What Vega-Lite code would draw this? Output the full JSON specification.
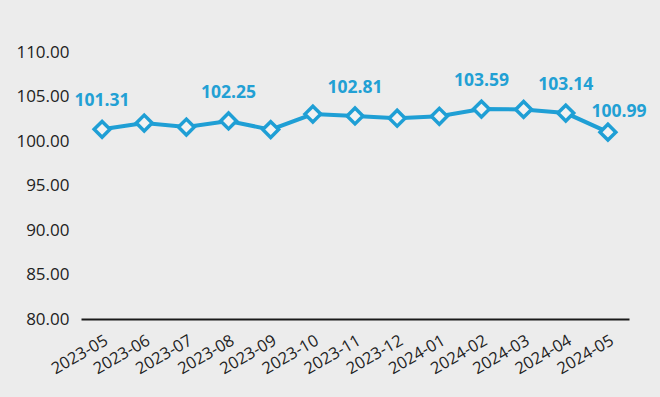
{
  "$schema": "https://vega.github.io/schema/vega-lite/v6.json",
  "width": 548,
  "height": 267,
  "autosize": {"type": "none"},
  "padding": {"left": 81, "top": 52, "right": 31, "bottom": 78},
  "background": "#ececec",
  "config": {
    "view": {"stroke": null},
    "font": "Open Sans"
  },
  "data": {
    "values": [
      {"month": "2023-05", "value": 101.31, "label": "101.31", "pos": "mid"},
      {"month": "2023-06", "value": 102.02, "label": "", "pos": "mid"},
      {"month": "2023-07", "value": 101.57, "label": "", "pos": "mid"},
      {"month": "2023-08", "value": 102.25, "label": "102.25", "pos": "mid"},
      {"month": "2023-09", "value": 101.28, "label": "", "pos": "mid"},
      {"month": "2023-10", "value": 103.02, "label": "", "pos": "mid"},
      {"month": "2023-11", "value": 102.81, "label": "102.81", "pos": "mid"},
      {"month": "2023-12", "value": 102.56, "label": "", "pos": "mid"},
      {"month": "2024-01", "value": 102.78, "label": "", "pos": "mid"},
      {"month": "2024-02", "value": 103.59, "label": "103.59", "pos": "mid"},
      {"month": "2024-03", "value": 103.55, "label": "", "pos": "mid"},
      {"month": "2024-04", "value": 103.14, "label": "103.14", "pos": "mid"},
      {"month": "2024-05", "value": 100.99, "label": "100.99", "pos": "end"}
    ]
  },
  "encoding": {
    "x": {
      "field": "month", "type": "ordinal",
      "scale": {"type": "point", "padding": 0.5},
      "axis": {
        "title": null, "ticks": false, "domainColor": "#1a1a1a", "domainWidth": 2,
        "labelAngle": -30, "labelAlign": "right", "labelBaseline": "top",
        "labelPadding": 13, "labelFontSize": 16.5, "labelColor": "#222222"
      }
    },
    "y": {
      "field": "value", "type": "quantitative",
      "scale": {"domain": [80, 110], "nice": false, "zero": false},
      "axis": {
        "title": null, "values": [80, 85, 90, 95, 100, 105, 110], "format": ".2f",
        "grid": false, "domain": false, "ticks": false,
        "labelPadding": 12, "labelFontSize": 17, "labelColor": "#222222"
      }
    }
  },
  "layer": [
    {
      "mark": {"type": "line", "color": "#1f9fd5", "strokeWidth": 4}
    },
    {
      "mark": {"type": "point", "shape": "diamond", "filled": true, "fill": "#f2f2f2", "stroke": "#1f9fd5", "strokeWidth": 3.5, "size": 250, "opacity": 1}
    },
    {
      "transform": [{"filter": "datum.pos == 'mid'"}],
      "mark": {"type": "text", "dy": -28, "fontSize": 17.5, "fontWeight": "bold", "color": "#22a0d4"},
      "encoding": {"text": {"field": "label"}}
    },
    {
      "transform": [{"filter": "datum.pos == 'end'"}],
      "mark": {"type": "text", "dy": -20, "dx": 11, "fontSize": 17.5, "fontWeight": "bold", "color": "#22a0d4"},
      "encoding": {"text": {"field": "label"}}
    }
  ]
}
